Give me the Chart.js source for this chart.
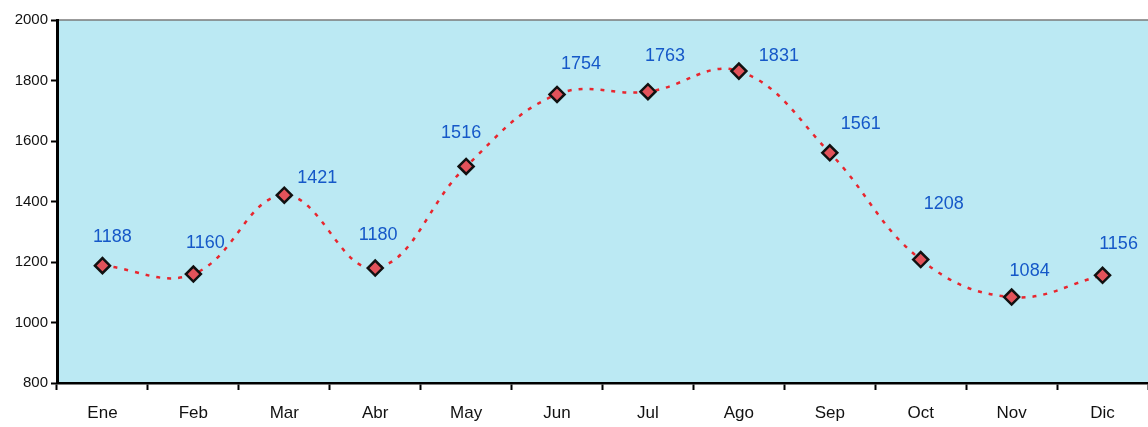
<!DOCTYPE html>
<html>
<head>
<meta charset="utf-8">
<script src="https://cdn.jsdelivr.net/npm/chart.js@4"></script>
<style>
  html, body { margin: 0; padding: 0; background: #fff; }
  #wrap { width: 1148px; height: 427px; }
</style>
</head>
<body>
<div id="wrap"><canvas id="myChart" width="1148" height="427"></canvas></div>
<script>
// months + values
const months = ['Ene', 'Feb', 'Mar', 'Abr', 'May', 'Jun', 'Jul', 'Ago', 'Sep', 'Oct', 'Nov', 'Dic'];
const values = [1188, 1160, 1421, 1180, 1516, 1754, 1763, 1831, 1561, 1208, 1084, 1156];
const yTicks = [800, 1000, 1200, 1400, 1600, 1800, 2000];

// label nudges (dx, dy) relative to each point, just styling
const labelNudge = [[10, -29], [12, -31], [33, -17], [3, -33], [-5, -33], [24, -30],
                    [17, -36], [40, -15], [31, -29], [23, -56], [18, -26], [16, -31]];

const plotBg = {
    id: 'plotBg',
    beforeDraw(chart) {
        const { ctx, chartArea: a } = chart;
        ctx.save();
        ctx.fillStyle = '#bbe9f3';
        ctx.fillRect(a.left, a.top, a.right - a.left, a.bottom - a.top);
        ctx.strokeStyle = '#7a7a7a';
        ctx.lineWidth = 1.5;
        ctx.beginPath();
        ctx.moveTo(a.left, a.top);
        ctx.lineTo(a.right, a.top);
        ctx.stroke();
        ctx.restore();
    }
};

const pointLabels = {
    id: 'pointLabels',
    afterDatasetsDraw(chart) {
        const ctx = chart.ctx;
        const meta = chart.getDatasetMeta(0);
        ctx.save();
        ctx.font = '18px "Liberation Sans", Arial, sans-serif';
        ctx.fillStyle = '#1558c8';
        ctx.textAlign = 'center';
        ctx.textBaseline = 'middle';
        meta.data.forEach((pt, i) => {
            const n = labelNudge[i] || [12, -28];
            ctx.fillText(String(values[i]), pt.x + n[0], pt.y + n[1]);
        });
        ctx.restore();
    }
};

new Chart(document.getElementById('myChart'), {
    type: 'line',
    data: {
        labels: months,
        datasets: [{
            data: values,
            borderColor: '#e8262e',
            borderWidth: 2.5,
            borderDash: [4, 7],
            tension: 0.4,
            fill: false,
            pointStyle: 'rectRot',
            pointRadius: 7.5,
            pointHoverRadius: 7.5,
            pointBackgroundColor: '#e2525a',
            pointBorderColor: '#111',
            pointBorderWidth: 2.5
        }]
    },
    options: {
        responsive: false,
        animation: false,
        layout: { autoPadding: false, padding: { top: 20, right: 0, left: 0, bottom: 0 } },
        plugins: {
            legend: { display: false },
            tooltip: { enabled: false }
        },
        scales: {
            x: {
                offset: true,
                grid: { offset: true, drawOnChartArea: false, tickLength: 7, tickColor: '#000', tickWidth: 2 },
                border: { color: '#000', width: 2.5 },
                ticks: {
                    color: '#111',
                    padding: 13,
                    font: { family: '"Liberation Sans", Arial, sans-serif', size: 17 }
                },
                afterFit(scale) { scale.height = 44; }
            },
            y: {
                min: 800,
                max: 2000,
                afterBuildTicks(scale) { scale.ticks = yTicks.map(v => ({ value: v })); },
                grid: { drawOnChartArea: false, tickLength: 6, tickColor: '#000', tickWidth: 2 },
                border: { color: '#000', width: 3 },
                ticks: {
                    color: '#111',
                    padding: 3,
                    callback: v => String(v),
                    font: { family: '"Liberation Sans", Arial, sans-serif', size: 15 }
                },
                afterFit(scale) { scale.width = 57; }
            }
        }
    },
    plugins: [plotBg, pointLabels]
});
</script>
</body>
</html>
